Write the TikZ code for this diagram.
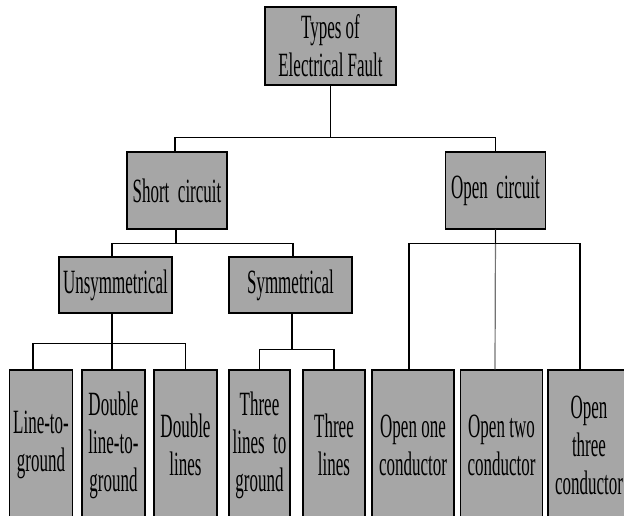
\documentclass[tikz,border=0pt]{standalone}
\usepackage{fontspec}
\setmainfont{Liberation Serif}[FakeStretch=0.5]
\usetikzlibrary{calc}
\definecolor{boxGray}{RGB}{166,166,166}
\tikzstyle{faultBox}   = [rectangle,
                          draw=black,
                          line width=1.2pt,
                          fill=boxGray,
                          inner sep=0pt,
                          text centered,
                          align=center,
                          font=\fontsize{34}{38}\selectfont]
\tikzstyle{topBox}     = [faultBox,
                          minimum width=131pt,
                          minimum height=78pt]
\tikzstyle{circuitBox} = [faultBox,
                          minimum width=100pt,
                          minimum height=77pt]
\tikzstyle{typeBox}    = [faultBox,
                          minimum height=56pt]
\tikzstyle{leafBox}    = [faultBox,
                          minimum width=63pt,
                          minimum height=150pt]
\tikzstyle{wideLeaf}   = [leafBox,
                          minimum width=82pt]
\tikzstyle{link}       = [line width=1.2pt]

\begin{document}
\begin{tikzpicture}
        \useasboundingbox (0,0) rectangle (624pt,-516pt);
        \clip (0,0) rectangle (624pt,-516pt);

        \node [topBox] (Fault) at (330.5pt,-46pt) {Types of \\ Electrical Fault};

        \node [circuitBox] (Short) at ([shift={(-153.5pt,-144.5pt)}] Fault) {Short~~circuit};
        \node [circuitBox] (Open)  at ([shift={(165pt,-144.5pt)}] Fault) {Open~~circuit};

        \node [typeBox, minimum width=113pt] (Unsym) at ([shift={(-215pt,-239pt)}] Fault) {Unsymmetrical};
        \node [typeBox, minimum width=123pt] (Sym)   at ([shift={(-40pt,-239pt)}] Fault) {Symmetrical};

        \node [leafBox] (LineGround)   at ([shift={(-289.5pt,-399pt)}] Fault) {Line-to- \\ ground};
        \node [leafBox] (DoubleGround) at ([shift={(-217pt,-399pt)}] Fault) {Double \\ line-to- \\ ground};
        \node [leafBox] (DoubleLines)  at ([shift={(-145pt,-399pt)}] Fault) {Double \\ lines};
        \node [leafBox, minimum width=61pt] (ThreeGround) at ([shift={(-71pt,-399pt)}] Fault) {Three \\ lines~~to \\ ground};
        \node [leafBox, minimum width=62pt] (ThreeLines)  at ([shift={(3.5pt,-399pt)}] Fault) {Three \\ lines};
        \node [wideLeaf] (OpenOne)   at ([shift={(82.5pt,-399pt)}] Fault) {Open one \\ conductor};
        \node [wideLeaf] (OpenTwo)   at ([shift={(171pt,-399pt)}] Fault) {Open two \\ conductor};
        \node [wideLeaf] (OpenThree) at ([shift={(258.5pt,-399pt)}] Fault) {Open \\ three \\ conductor};

        % first level
        \draw [link] (Fault.south) -- ++(0,-52pt) -| ([xshift=-2pt] Short.north);
        \draw [link] (Fault.south) -- ++(0,-52pt) -| (Open.north);

        % short circuit
        \draw [link] ([xshift=-1pt] Short.south) -- ++(0,-14pt) -| ([xshift=-3.5pt] Unsym.north);
        \draw [link] ([xshift=-1pt] Short.south) -- ++(0,-14pt) -| ([xshift=2.5pt] Sym.north);

        \draw [link] ([xshift=-3.5pt] Unsym.south) -- ++(0,-30pt) -| ([xshift=-8pt] LineGround.north);
        \draw [link] ([xshift=-3.5pt] Unsym.south) -- ([xshift=-1.5pt] DoubleGround.north);
        \draw [link] ([xshift=-3.5pt] Unsym.south) -- ++(0,-30pt) -| (DoubleLines.north);

        \draw [link] ([xshift=1.5pt] Sym.south) -- ++(0,-36pt) -| (ThreeGround.north);
        \draw [link] ([xshift=1.5pt] Sym.south) -- ++(0,-36pt) -| (ThreeLines.north);

        % open circuit
        \draw [link] (Open.south) -- ++(0,-14pt) -| ([xshift=-4pt] OpenOne.north);
        \draw [link, black!55] (Open.south) -- ([xshift=-6.5pt] OpenTwo.north);
        \draw [link] (Open.south) -- ++(0,-14pt) -| ([xshift=-9pt] OpenThree.north);

\end{tikzpicture}
\end{document}
